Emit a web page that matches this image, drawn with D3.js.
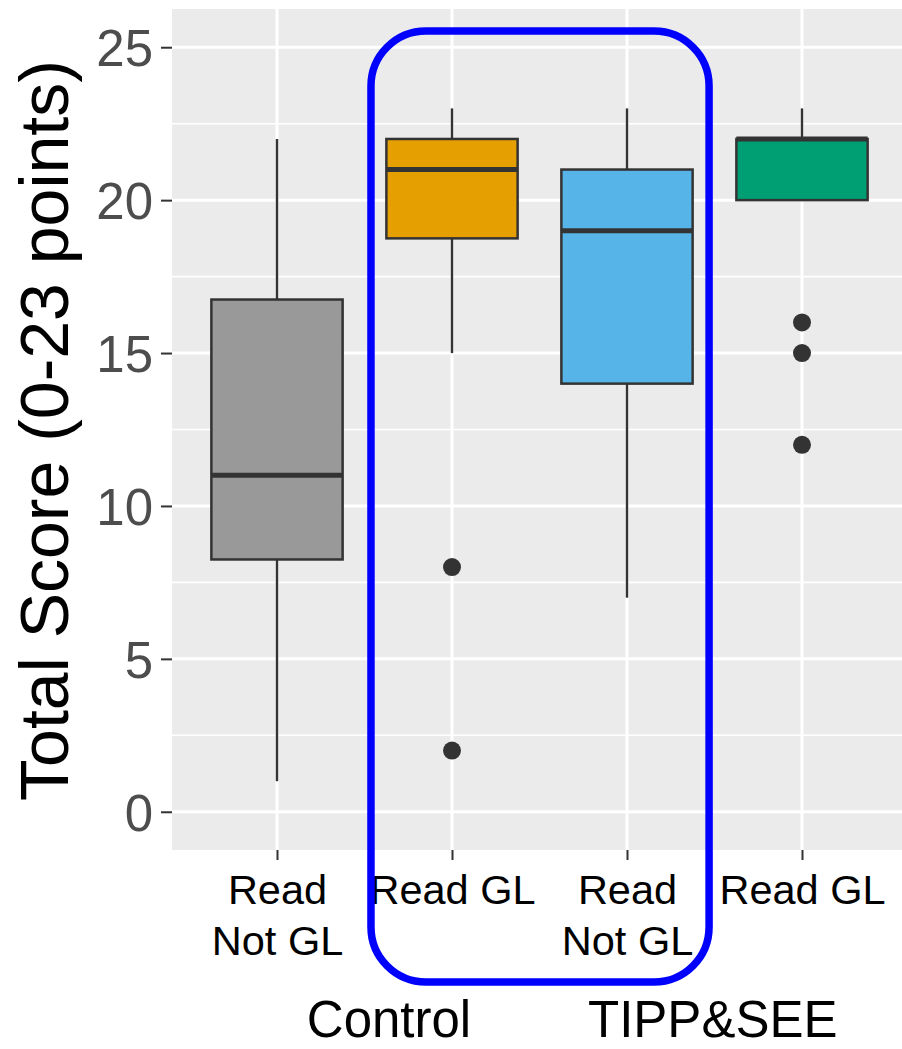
<!DOCTYPE html>
<html>
<head>
<meta charset="utf-8">
<script src="https://cdn.jsdelivr.net/npm/d3@7"></script>
<style>
  html, body { margin: 0; padding: 0; background: #fff; }
  svg { display: block; }
  text { font-family: "Liberation Sans", Arial, Helvetica, sans-serif; }
</style>
</head>
<body>
<svg id="chart" width="902" height="1049"></svg>
<script>
// Box-plot summaries for each condition (score out of 23 points)
const categories = ["ctrl-notgl", "ctrl-gl", "tipp-notgl", "tipp-gl"];
const tickLabels = [["Read", "Not GL"], ["Read GL"], ["Read", "Not GL"], ["Read GL"]];
const fills = ["#999999", "#E69F00", "#56B4E9", "#009E73"];
const whiskerLow = [1, 15, 7, 20];
const q1 = [8.25, 18.75, 14, 20];
const median = [11, 21, 19, 22];
const q3 = [16.75, 22, 21, 22];
const whiskerHigh = [22, 23, 23, 23];
const outliers = [[], [8, 2], [], [16, 15, 12]];
const yTicks = [0, 5, 10, 15, 20, 25];
const yMinor = [2.5, 7.5, 12.5, 17.5, 22.5];
const groupLabels = ["Control", "TIPP&SEE"];
const groupPos = [0.64, 2.49];          // in category-index units
const highlighted = [1, 2];             // categories inside the blue frame

const svg = d3.select("#chart");
const W = 902, H = 1049;
const panel = { left: 172, top: 9, bottom: 850 };

const y = d3.scaleLinear().domain([-1.25, 26.25]).range([panel.bottom, panel.top]);
const x = d3.scalePoint().domain(categories).range([panel.left, 907]).padding(0.6);
const step = x.step();
const boxW = step * 0.75;
const xi = d3.scaleLinear().domain([0, 1]).range([x(categories[0]), x(categories[1])]);

// panel background
svg.append("rect")
  .attr("x", panel.left).attr("y", panel.top)
  .attr("width", W - panel.left).attr("height", panel.bottom - panel.top)
  .attr("fill", "#EBEBEB");

// grid
const grid = svg.append("g");
grid.selectAll(".minor").data(yMinor).join("line")
  .attr("x1", panel.left).attr("x2", W)
  .attr("y1", d => y(d)).attr("y2", d => y(d))
  .attr("stroke", "#fff").attr("stroke-width", 1.6);
grid.selectAll(".major").data(yTicks).join("line")
  .attr("x1", panel.left).attr("x2", W)
  .attr("y1", d => y(d)).attr("y2", d => y(d))
  .attr("stroke", "#fff").attr("stroke-width", 3);
grid.selectAll(".vmajor").data(categories).join("line")
  .attr("x1", d => x(d)).attr("x2", d => x(d))
  .attr("y1", panel.top).attr("y2", panel.bottom)
  .attr("stroke", "#fff").attr("stroke-width", 3);

// y axis
const yAxis = d3.axisLeft(y).tickValues(yTicks).tickSize(11).tickPadding(8);
const gy = svg.append("g").attr("transform", `translate(${panel.left},0)`).call(yAxis);
gy.select(".domain").remove();
gy.selectAll(".tick line").attr("stroke", "#333").attr("stroke-width", 2);
gy.selectAll(".tick text")
  .attr("fill", "#4D4D4D").attr("font-size", 51)
  .attr("font-family", "Liberation Sans, Arial, sans-serif")
  .attr("dy", "0.36em");

// x axis
const xAxis = d3.axisBottom(x).tickSize(10).tickFormat("");
const gx = svg.append("g").attr("transform", `translate(0,${panel.bottom})`).call(xAxis);
gx.select(".domain").remove();
gx.selectAll(".tick line").attr("stroke", "#333").attr("stroke-width", 2);
gx.selectAll(".tick").each(function(d, i) {
  const t = d3.select(this).append("text")
    .attr("fill", "#000").attr("font-size", 41.5)
    .attr("text-anchor", "middle")
    .attr("font-family", "Liberation Sans, Arial, sans-serif");
  tickLabels[i].forEach((line, k) => {
    t.append("tspan").attr("x", 0).attr("y", 54 + k * 51).text(line);
  });
});

// boxes
const boxes = svg.append("g").selectAll("g").data(categories).join("g")
  .attr("transform", d => `translate(${x(d)},0)`);
boxes.append("line")
  .attr("y1", (d, i) => y(whiskerHigh[i])).attr("y2", (d, i) => y(q3[i]))
  .attr("stroke", "#333").attr("stroke-width", 2.4);
boxes.append("line")
  .attr("y1", (d, i) => y(q1[i])).attr("y2", (d, i) => y(whiskerLow[i]))
  .attr("stroke", "#333").attr("stroke-width", 2.4);
boxes.append("rect")
  .attr("x", -boxW / 2).attr("width", boxW)
  .attr("y", (d, i) => y(q3[i])).attr("height", (d, i) => y(q1[i]) - y(q3[i]))
  .attr("fill", (d, i) => fills[i]).attr("stroke", "#333").attr("stroke-width", 2.5);
boxes.append("line")
  .attr("x1", -boxW / 2).attr("x2", boxW / 2)
  .attr("y1", (d, i) => y(median[i])).attr("y2", (d, i) => y(median[i]))
  .attr("stroke", "#333").attr("stroke-width", 5);
boxes.each(function(d, i) {
  d3.select(this).selectAll("circle").data(outliers[i]).join("circle")
    .attr("cx", 0).attr("cy", v => y(v)).attr("r", 9).attr("fill", "#333");
});

// y title
svg.append("text")
  .attr("transform", `translate(68,${(panel.top + panel.bottom) / 2 + 1}) rotate(-90)`)
  .attr("text-anchor", "middle").attr("font-size", 68).attr("fill", "#000")
  .text("Total Score (0-23 points)");

// group labels
svg.selectAll(".group").data(groupLabels).join("text")
  .attr("x", (d, i) => xi(groupPos[i])).attr("y", 1037)
  .attr("text-anchor", "middle").attr("font-size", 51).attr("fill", "#000")
  .text(d => d);

// highlight frame around the two middle conditions
const fx0 = x(categories[highlighted[0]]) - step * 0.463;
const fx1 = x(categories[highlighted[1]]) + step * 0.469;
const fy0 = y(25.53);
const fy1 = 982;
svg.append("rect")
  .attr("x", fx0).attr("y", fy0)
  .attr("width", fx1 - fx0).attr("height", fy1 - fy0)
  .attr("rx", 55).attr("ry", 55)
  .attr("fill", "none").attr("stroke", "#0000FF").attr("stroke-width", 7.5);
</script>
</body>
</html>
